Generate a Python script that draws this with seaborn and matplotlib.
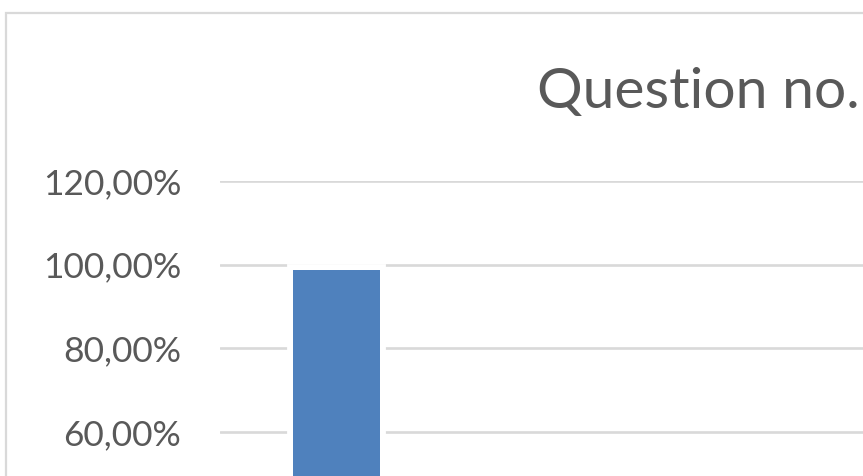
import numpy as np
import pandas as pd
import seaborn as sns
import matplotlib.pyplot as plt
from matplotlib.patches import Rectangle

# data
categories = ['Yes']
values = [98.6]
tick_values = [60, 80, 100, 120]
title = 'Question no.'

df = pd.DataFrame({'answer': categories, 'percent': values})

sns.set_style('white')
plt.rcParams['font.family'] = ['Lato', 'DejaVu Sans']

W, H = 863, 476
fig = plt.figure(figsize=(W / 100, H / 100), dpi=100)

# chart border (cut off at right and bottom)
fig.patches.append(Rectangle((6 / W, -0.1), 1.2, (H - 13) / H + 0.1,
                             transform=fig.transFigure, fill=False,
                             edgecolor='#D9D9D9', linewidth=1.6))

ax = fig.add_axes([220 / W, 0, (W - 220) / W, (H - 181) / H])
ax.set_axisbelow(True)
# white halo behind the bar, cuts the gridlines like Excel does
sns.barplot(data=df, x='answer', y='percent', color='white', width=0.8,
            saturation=1, edgecolor='white', linewidth=8.5, ax=ax)
sns.barplot(data=df, x='answer', y='percent', color='#4F81BD', width=0.8,
            saturation=1, linewidth=0, ax=ax)

ax.set_ylim(49.46, 120)
ax.set_xlim(-1.071, 4.842)
ax.set_yticks(tick_values)
ax.set_yticklabels([f'{v:.2f}%'.replace('.', ',') for v in tick_values])
ax.yaxis.grid(True, color='#D9D9D9', linewidth=1.9)
ax.tick_params(axis='y', length=0, pad=28, labelsize=25.5, labelcolor='#595959')
ax.tick_params(axis='x', length=0, labelbottom=False)
ax.set_xlabel('')
ax.set_ylabel('')
sns.despine(ax=ax, left=True, bottom=True)

fig.text(537 / W, 1 - 108 / H, title, fontsize=41, color='#595959',
         ha='left', va='baseline')

fig.savefig('out.png', dpi=100)
